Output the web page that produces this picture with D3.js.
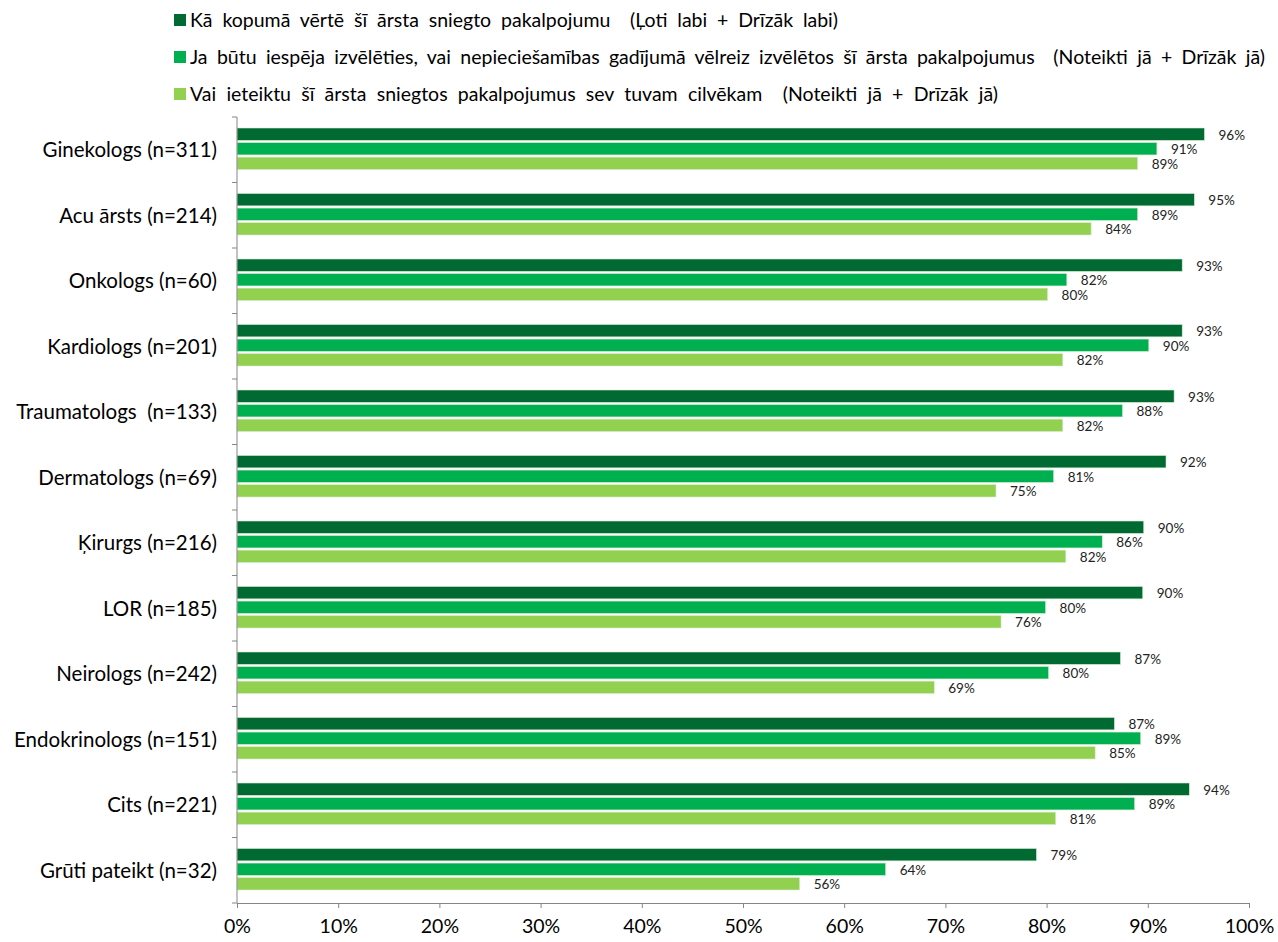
<!DOCTYPE html>
<meta charset="utf-8">
<head>
<title>Ārstu vērtējums</title>
<script src="https://d3js.org/d3.v7.min.js"></script>
<style>
  body { margin: 0; background: #fff; }
  text { font-family: Lato, "Open Sans", sans-serif; fill: #000; }
</style>
</head>
<body>
<div id="my_dataviz"></div>
<script>

// categories (top to bottom)
var categories = ["Ginekologs (n=311)", "Acu ārsts (n=214)", "Onkologs (n=60)", "Kardiologs (n=201)",
  "Traumatologs  (n=133)", "Dermatologs (n=69)", "Ķirurgs (n=216)", "LOR (n=185)",
  "Neirologs (n=242)", "Endokrinologs (n=151)", "Cits (n=221)", "Grūti pateikt (n=32)"];

// series
var seriesNames = [
  "Kā kopumā vērtē šī ārsta sniegto pakalpojumu  (Ļoti labi + Drīzāk labi)",
  "Ja būtu iespēja izvēlēties, vai nepieciešamības gadījumā vēlreiz izvēlētos šī ārsta pakalpojumus  (Noteikti jā + Drīzāk jā)",
  "Vai ieteiktu šī ārsta sniegtos pakalpojumus sev tuvam cilvēkam  (Noteikti jā + Drīzāk jā)"
];
var vertē    = [95.6, 94.6, 93.4, 93.4, 92.6, 91.8, 89.6, 89.5, 87.3, 86.7, 94.1, 79.0];
var izvēlētos = [90.9, 89.0, 82.0, 90.1, 87.5, 80.7, 85.5, 79.9, 80.2, 89.3, 88.7, 64.1];
var ieteiktu = [89.0, 84.4, 80.1, 81.6, 81.6, 75.0, 81.9, 75.5, 68.9, 84.8, 80.9, 55.6];
var colors = ["#006a33", "#00b050", "#92d050"];

var xTicks = [0, 10, 20, 30, 40, 50, 60, 70, 80, 90, 100];

var series = [vertē, izvēlētos, ieteiktu];

var svg = d3.select("#my_dataviz").append("svg")
  .attr("width", 1278).attr("height", 942);

var plot = {left: 237, right: 1249, top: 117, bottom: 903};

var x = d3.scaleLinear().domain([0, 100]).range([plot.left, plot.right]);
var y = d3.scaleBand().domain(categories).range([plot.top, plot.bottom]);
var sub = d3.scaleBand().domain([0, 1, 2]).range([11, 52.5]).paddingInner(0.15);

// bars
var groups = svg.append("g").selectAll("g")
  .data(categories).enter().append("g")
  .attr("transform", function(d) { return "translate(0," + y(d) + ")"; });

groups.each(function(cat, ci) {
  var g = d3.select(this);
  series.forEach(function(vals, si) {
    g.append("rect")
      .attr("x", x(0))
      .attr("y", sub(si))
      .attr("width", x(vals[ci]) - x(0))
      .attr("height", sub.bandwidth())
      .style("fill", colors[si])
      .style("stroke", "#d9ecd0")
      .style("stroke-width", 0.6);
    g.append("text")
      .attr("x", x(vals[ci]) + 14)
      .attr("y", sub(si) + sub.bandwidth() / 2)
      .attr("dy", "0.4em")
      .style("font-size", "13.5px")
      .style("fill", "#222")
      .text(Math.round(vals[ci]) + "%");
  });
});

// Y axis
var yAxis = svg.append("g").attr("transform", "translate(" + plot.left + ",0)");
yAxis.append("line").attr("x1", 0).attr("x2", 0).attr("y1", plot.top).attr("y2", plot.bottom)
  .style("stroke", "#868686");
yAxis.selectAll(".yt").data(d3.range(categories.length + 1)).enter().append("line")
  .attr("x1", -5).attr("x2", 0)
  .attr("y1", function(i) { return plot.top + i * y.step(); })
  .attr("y2", function(i) { return plot.top + i * y.step(); })
  .style("stroke", "#868686");
yAxis.selectAll(".ylab").data(categories).enter().append("text")
  .attr("x", -20)
  .attr("y", function(d) { return y(d) + y.bandwidth() / 2; })
  .attr("dy", "0.36em")
  .attr("text-anchor", "end")
  .style("font-size", "20.5px")
  .style("white-space", "pre")
  .text(function(d) { return d; });

// X axis
var xAxis = svg.append("g").attr("transform", "translate(0," + plot.bottom + ")")
  .call(d3.axisBottom(x).tickValues(xTicks).tickSize(5).tickPadding(11)
    .tickFormat(function(d) { return d + "%"; }));
xAxis.select(".domain").style("stroke", "#868686");
xAxis.selectAll(".tick line").style("stroke", "#868686");
xAxis.selectAll(".tick text").style("font-size", "19.5px").style("font-family", "Lato, 'Open Sans', sans-serif");

// legend
var legendWidths = [648, 1075, 808];
var legend = svg.append("g").selectAll("g").data(seriesNames).enter().append("g")
  .attr("transform", function(d, i) { return "translate(174," + (20 + i * 37) + ")"; });
legend.append("rect").attr("x", 0).attr("y", -6).attr("width", 12).attr("height", 12)
  .style("fill", function(d, i) { return colors[i]; });
legend.append("text").attr("x", 16).attr("y", 0).attr("dy", "0.36em")
  .style("font-size", "19.5px")
  .style("white-space", "pre")
  .text(function(d) { return d; })
  .each(function(d, i) {
    // stretch word gaps like the justified legend
    var w = this.getComputedTextLength();
    var gaps = d.split(" ").length - 1;
    var extra = (legendWidths[i] - w) / gaps;
    if (extra > 0) d3.select(this).style("word-spacing", extra + "px");
  });

</script>
</body>
